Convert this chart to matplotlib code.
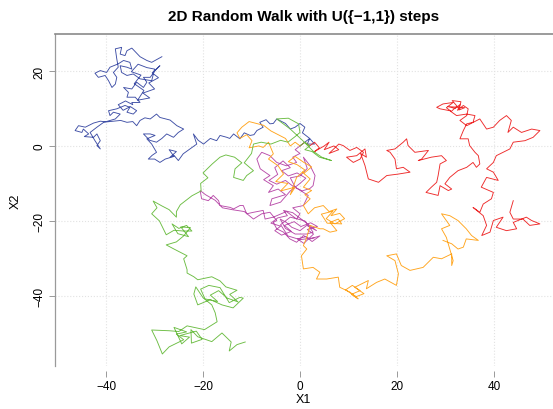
import matplotlib
matplotlib.use("Agg")
import matplotlib.pyplot as plt

plt.rcParams['font.family'] = ['Liberation Sans', 'DejaVu Sans']

# walks (waypoints, data units)
blue_x = [0, 1, 2, 3, 1.5, 2, 0.5, 1, 0, -1, -2, -3, -4.8, -5.5, -6.2, -7, -8.3, -7.6, -8.9, -9.5, -10.3, -11.5,
          -12.4, -13.7, -14.5, -15.1, -16.5, -17.2, -18.5, -19.9, -21, -22, -21.3, -22.7, -24.1, -25.1, -26, -26.8,
          -25.5, -27, -26, -27.8, -28.9, -30, -31.3, -30.5, -29.6, -30.6, -31.6, -29.9, -30.9, -32.3, -31, -29.6,
          -28.5, -27.5, -26.1, -25.1, -24, -25.4, -26.8, -28.9, -29.6, -30.9, -32, -33, -33.7, -34.5, -35.7, -37,
          -38.5, -40, -41.2, -42.6, -44.3, -45.7, -46.4, -45, -44.7, -43.6, -44.5, -42.6, -41.9, -41.2, -41.9,
          -41.2, -42.3, -43.3, -41.9, -40.5, -38.1, -37.1, -38.5, -39.2, -39.5, -37.8, -36.1, -35.1, -35.7, -34.4,
          -33.7, -35, -36.5, -37.5, -36, -34.5, -34.7, -33, -34, -35.7, -35.4, -36.4, -34.7, -33.7, -32.3, -31.6,
          -32.3, -30.9, -29.9, -28.9, -30.5, -29.2, -31.2, -30, -32.4, -31, -33.5, -32.2, -34.2, -32.8, -34.8,
          -33.4, -31.6, -30, -30.6, -33, -34.4, -35.7, -36.8, -37.1, -35.7, -34.7, -35.1, -36.4, -37.5, -39.2,
          -39.9, -41.2, -42.3, -41.6, -40.2, -39.5, -38.8, -38.1, -37.8, -38.5, -37.5, -37.8, -38.1, -36.8,
          -37.1, -36.1, -35.7, -34.7, -33, -31.6, -30.6, -28.5]
blue_y = [0, 1, 2, 0.5, 0.5, 2, 3.5, 5, 6, 5, 4.5, 6, 7.2, 6, 5.9, 7, 6.3, 5, 4.1, 3, 2.8, 3.5,
          1.9, 3.2, 2, 2.3, 2.8, 1.4, 2, 0.5, 1.5, 3.2, 0.5, -0.8, -2.1, -3.9, -2.5, -3,
          -1.5, -1, -2.8, -3.5, -4.4, -3.5, -3.5, -2.5, -1.7, 0.5, 1.9, 2.8, 3.2, 3.2, 1.5, 1.0,
          2, 3.2, 2.3, 3.6, 4.5, 5.4, 6.9, 7.6, 8.5, 7.2, 7.5, 6.8, 5.4, 6.5, 6.3, 6.8,
          6.6, 6.4, 6.6, 6.1, 5.0, 5.4, 4.1, 3.6, 4.5, 3.2, 2.5, 2.3, 3.2, 1.4, 0.1,
          -0.8, 1.4, 3.6, 5, 6.3, 7.2, 8.5, 9, 8.1, 9.4, 9.9, 10.8, 10.3, 9, 8.5,
          9.4, 10.5, 9.5, 11, 12, 11, 11.6, 11.6, 13, 13, 14.3, 15.6, 15.2, 17, 15.6, 17,
          18.3, 18.3, 20.1, 21.4, 19.5, 18.2, 16.8, 15.2, 14.1, 12.8, 12.2, 14.8, 16.6, 18.9, 19.8,
          21.8, 20.9, 20.5, 17.4, 17.9, 19.2, 18.8, 19.6, 21.4, 21, 20.5, 22.3, 22.8, 21.9, 21,
          19.6, 20.1, 19.4, 18.3, 18.8, 17.4, 15.6, 16.5, 18.3, 19.6, 21, 23.2, 25.9, 26.3,
          24.5, 24.1, 25.4, 26.1, 23.8, 22.8, 22.3, 23.8]

red_x = [0, 1, 2, 3, 4, 3, 5, 6, 5, 7, 8, 6, 8, 8.9, 10.3, 11.7, 13.1, 12.4, 11, 9.6, 11.7, 13.4, 13.7, 12.5,
         13.4, 14.1, 16.2, 17.9, 20.3, 22.7, 21.3, 19.9, 19.6, 18.6, 17.9, 19.6, 21.3, 22, 22.3, 23.7, 26.5,
         25.1, 24.4, 27.1, 29.2, 30.2, 28.9, 28.5, 28.2, 27.1, 26, 28.5, 28.9, 30.6, 31.3, 29.9, 30.9, 32.6,
         34.4, 35.7, 36.4, 37.1, 36.8, 36.1, 35, 34.7, 33, 33.7, 34.4, 35.7, 36.1, 34.4, 32.3, 30.9, 28.9,
         28.2, 29.5, 31.6, 30.2, 31.2, 32.4, 31.4, 33.2, 32.8, 34, 30.5, 32, 33, 32.5, 33.7, 34.7, 34.4, 33,
         34.4, 37.1, 38.5, 39.9, 41.2, 42.6, 43.6, 42.9, 44, 45.7, 47.8, 49.5, 48.1, 46.4, 44, 43.3, 41.9,
         40.5, 39.9, 38.5, 39.9, 40.9, 38.5, 37.4, 39.9, 39.5, 37.8, 37.1, 35.7, 37.8, 38.5, 37.5, 39.2, 39.9,
         41.9, 40.5, 42.6, 44.7, 44, 46.7, 47.8, 49.5, 47.4, 46, 44, 43.3, 44]
red_y = [0, 1, 0, 1, -0.5, -1.5, 0, 1, -1, 0, -1, -2, 0.5, 0.1, -1.2, -0.4, -1.7, -3.5, -4.4, -3, -2.6, -0.8, -3, -2,
         -5.2, -8.8, -9.7, -7.9, -7.5, -7, -5.7, -6.1, -3.5, -1.7, -1.2, -0.8, 1, 1.9, 0.1, -1.7, -1.2,
         -3.5, -3.9, -3, -2.6, -3.9, -4.8, -7.9, -9.7, -11, -12.4, -13.2, -10.6, -11.9, -11.5, -10.1, -8.4, -6.6,
         -5.7, -4.4, -5.7, -4.8, -2.6, -1.7, 0.1, 1.9, 1.9, 4.1, 5.9, 6.3, 8.1, 8.5, 8.1, 9.4, 9.9,
         10.3, 11.2, 11.6, 10.2, 9.2, 10.6, 12.1, 11.8, 9.6, 10.2, 10.5, 10, 11, 9.5, 10.8, 9.9, 8.1, 6.8,
         5.4, 7.2, 4.5, 5, 6.8, 8.1, 6.8, 3.6, 5, 3.6, 4.5, 4.1, 2.3, 1.4, 1, -0.8, -1.7,
         -2.6, -4.4, -6.1, -7, -9.2, -8.4, -11, -12.4, -14.1, -15.5, -17.7, -16.4, -18.6, -21.2, -23.9, -23, -19.9,
         -19, -21.7, -22.6, -22.1, -20.4, -19, -19.9, -20.8, -21.2, -19.5, -19.5, -17.7, -14.6]

green_x = [0, 1, 2, 1, 2.5, 4, 6.5, 4.5, 2.8, 0.5, -2, -4.8, -2.4, -0.3, 0, -1, -2.5, -4, -6, -8, -9.6, -10,
           -11.5, -9.6, -11, -11.7, -13.7, -13.4, -12, -13.5, -15.3, -16.5, -18.1, -20, -19, -20.5, -20.4, -22.3,
           -23.5, -24.7, -25.5, -25.5, -27, -28.5, -30.3, -29.5, -30.6, -29, -27.6, -26, -24, -22.3, -23.4, -25,
           -26.4, -25.2, -23, -24.6, -22.6, -24, -25.5, -27.6, -26, -23.3, -24, -23.3, -23.3, -21.9, -21.1,
           -18.2, -16.5, -15.3, -13, -14.5, -12.8, -15, -16.8, -18.5, -17, -19.6, -20.5, -18.8, -16.5, -14.6,
           -12.4, -11.7, -13.8, -16.1, -18.5, -21.1, -21.9, -21.5, -20, -18.2, -17.5, -17.1, -19.7, -23.3, -25,
           -27, -30.6, -29.5, -28.4, -27, -24, -25.5, -23.4, -26, -24.4, -22.8, -24.8, -21.4, -20.2, -22.4,
           -22.5, -21.1, -18.2, -16.1, -14.2, -14.6, -13, -11.3]
green_y = [0, 1, 0, -1, -1.5, -3, -3.9, -3, -1.5, 1.5, 4.5, 7.2, 7.4, 5.9, 3.6, 2.5, 1, 1.5, 0.5, 1, 0.5, -2,
           -4.5, -6.6, -7.9, -9.2, -8.4, -6.1, -4.5, -3, -2.4, -3, -4.8, -7.2, -8.5, -10, -12, -13.3,
           -14.5, -15.7, -17.5, -19, -17, -16, -14.7, -16.5, -18.1, -20, -23.7, -22.5, -22.7, -22.7, -21.2, -22,
           -20.8, -23.4, -24.2, -21.6, -21.8, -24, -25.6, -26.4, -27.5, -29.3, -30.1, -33, -33.9, -34.9, -35.7,
           -34.9, -36, -37.6, -38.5, -39.6, -41.6, -40.6, -38.6, -39.8, -41.5, -40.8, -38.2, -37.2, -37.8, -41.8,
           -40.4, -40.6, -43.2, -42.4, -41, -42.4, -39.5, -37.6, -40.5, -42.4, -44.5, -46.9, -49, -48, -49.5,
           -49.3, -49.1, -52, -55.5, -53.6, -51.7, -50.2, -49.6, -48.4, -52.8, -51, -50.6, -49.4, -51.6, -52.6,
           -49, -50.9, -52.2, -49.9, -52.3, -54.7, -53, -52.3]

purple_x = [0, -1, 0, -1.5, -0.7, -2.8, -4.8, -6.2, -7.9, -8.9, -8.2, -6.2, -7.5, -5.5, -6.5, -4.5, -3, -5.8,
            -6.2, -4, -2, 0, 1.2, -0.6, -2.4, -3.8, -2, -3.5, -5.2, -4.6, -6.4, -4.8, -3, -1.4, 0.4, 2, 2.7,
            3.1, 2.1, 0.7, 1.5, 0, -2, -1, 1.7, 0.7, -1.5, 0, -0.7, -2.8, -5.5, -7.2, -7.6, -9.6, -11, -11.7,
            -12.4, -13.7, -14.4, -16.5, -16.8, -17.9, -18.9, -20.3, -20.6, -19.5, -17.5, -16, -14, -11.5, -9.6,
            -7.9, -6.2, -4.8, -5.5, -4.8, -3.4, -2.1, -0.7, 0.7, 2.1, 4.1, 2.5, 1.2, -0.5, 0.8, 2.8, 1.5, 3.6,
            2.2, 0.2, -1.2, -3.2, -1.8, -3.8, -5.2, -4, -6, -4.6, -2.6, -3.4, -1.5, 3.4, 1.4, 0, -1.7, -2.8,
            -4.1, -3, -1, 1.4, 2.7, 1, -2, -4, -2.5, 0, 3]
purple_y = [0, -1, -2, -3, -4.4, -5.3, -4.4, -2.6, -1.7, -3.5, -6.1, -7.9, -9, -10.6, -12.4, -11.5, -13, -14.1,
            -15.9, -15, -12, -10, -8.6, -7.2, -8, -6.6, -5.8, -4, -5.8, -7.6, -9.2, -10.2, -9.2, -10.8, -12,
            -11.4, -10.6, -7.9, -5.3, -3, -6, -8, -8.5, -11, -13.2, -15.9, -16.5, -18.1, -19.5, -17.5, -19,
            -19.5, -17.2, -17.7, -18.1, -15.9, -15.9, -16.8, -16.4, -15.9, -14.6, -13.2, -14.6, -14.1, -11.9,
            -13, -14.5, -16.5, -17, -17.5, -19.5, -18.1, -17.7, -19.9, -20.4, -22.1, -23, -24.8, -25.7, -23.9,
            -24.8, -24, -25.5, -24.2, -24.8, -26, -23.5, -22.3, -21.5, -20.5, -21.5, -20.2, -21.2, -22.8,
            -23.8, -22.6, -21.4, -20.6, -19.2, -18.6, -17.2, -17.8, -22.6, -21.2, -22.6, -21.7, -20.4, -19.5,
            -22, -23.5, -23.5, -23, -20, -19, -21, -24, -25, -24.5]

orange_x = [0, -1, -2, -3, -4.5, -6, -7.5, -9, -10.5, -12, -13, -12.4, -11, -9.9, -10.5, -8.5, -7.6, -6.5, -5.5,
            -6.5, -4.5, -3.4, -5, -2.5, -4, -1, -2, -0.7, 1, -0.6, -2.4, -1, 0.8, 2.4, 0.9, 0.5, 2.1, 0.7, 2.4,
            1, 2.1, 0.7, 1.7, 3, 4.8, 6, 7.6, 6.4, 8.2, 9.2, 7.2, 5.4, 6.8, 4.4, 5.6, 8.6, 7.9, 6.2, 7.6, 6.2,
            4.8, 4.1, 2.1, 1.7, 1.4, 0.7, 1.4, 0.3, 0.7, 2.7, 4.1, 3.4, 5.5, 7.9, 8.2, 10.3, 12, 10.6, 12.4,
            10.8, 9.4, 11.6, 13.2, 11.3, 14.1, 13.7, 15.8, 17.5, 19.9, 20.3, 19.6, 17.9, 19.9, 20.9, 22.7,
            25.4, 27.5, 29.2, 31.3, 31.3, 31.6, 30.9, 30.2, 29.2, 30.9, 29.2, 30.9, 32.6, 34.3, 35.4, 36.8,
            34.3, 33.7, 32.6, 31.3, 29.5]
orange_y = [0, 1, 0, 2, 3, 4, 5.5, 6, 6.5, 5, 3.5, 2, 3, 1.4, -0.5, 0, -0.4, 1, -2.1,
            -3.5, -5.3, -7.5, -9.5, -10, -12, -11, -13, -8.4, -6.4, -5, -4.2, -2.8, -4.4, -5.6, -7.2, -7, -8.8,
            -11, -11.9, -13, -14.1, -15.9, -18.1, -16.5, -15.9, -17.5, -16.8, -18.6, -18, -19.4, -20.8, -19.4,
            -17.4, -18.2, -20.6, -20.8, -19.5, -20.4, -22.6, -23, -22.1, -22.1, -21.2, -23, -24.4, -26.6, -27.5,
            -29.3, -32.8, -32.4, -33.7, -35.5, -35.5, -35, -37.7, -39, -40.8, -39.6, -38.6, -37.2, -38.4, -40.2,
            -39.4, -37.7, -35.9, -38.1, -36.4, -35.5, -37.2, -34.1, -30.6, -29.3, -28.8, -31.9, -33.2, -32.4,
            -29.7, -30.1, -28.8, -31.9, -30.6, -27.5, -24.4, -22.1, -21.2, -18.1, -18.6, -19.9, -22.1, -23.9,
            -25.2, -24.8, -27, -27.5, -26.1, -25.2]

walks = [(blue_x, blue_y, '#3F4FA6'), (red_x, red_y, '#EE2A2A'), (purple_x, purple_y, '#B94DAA'),
         (orange_x, orange_y, '#FFA51E'), (green_x, green_y, '#6CBD43')]

fig = plt.figure(figsize=(5.53, 4.10), dpi=100)
ax = fig.add_axes([0.099, 0.104, 0.901, 0.811])

for xs, ys, c in walks:
    ax.plot(xs, ys, color=c, lw=0.65)

ax.set_xlim(-50.6, 52.2)
ax.set_ylim(-58.8, 29.9)
ax.set_xticks([-40, -20, 0, 20, 40])
ax.set_yticks([-40, -20, 0, 20])
ax.grid(True, color='#e2e2e2', linestyle=':', linewidth=0.8)
ax.set_axisbelow(True)

for s in ['bottom', 'right']:
    ax.spines[s].set_visible(False)
ax.spines['bottom'].set_position(('outward', 3))
ax.spines['top'].set_color('#8a8a8a')
ax.spines['left'].set_color('#9a9a9a')
ax.spines['top'].set_linewidth(1.2)
ax.spines['left'].set_linewidth(0.9)

ax.tick_params(axis='x', length=4.5, width=0.7, color='#999999', labelsize=8.5, pad=2)
ax.tick_params(axis='y', length=4, width=0.7, color='#999999', labelsize=8.5, pad=3)
for lab in ax.get_yticklabels():
    lab.set_rotation(90)
    lab.set_va('center')

ax.set_xlabel('X1', fontsize=9, labelpad=1)
ax.set_ylabel('X2', fontsize=9, labelpad=8)
ax.set_title('2D Random Walk with U({\u22121,1}) steps', fontsize=11, fontweight='bold', pad=10)

fig.savefig('out.png', dpi=100)
